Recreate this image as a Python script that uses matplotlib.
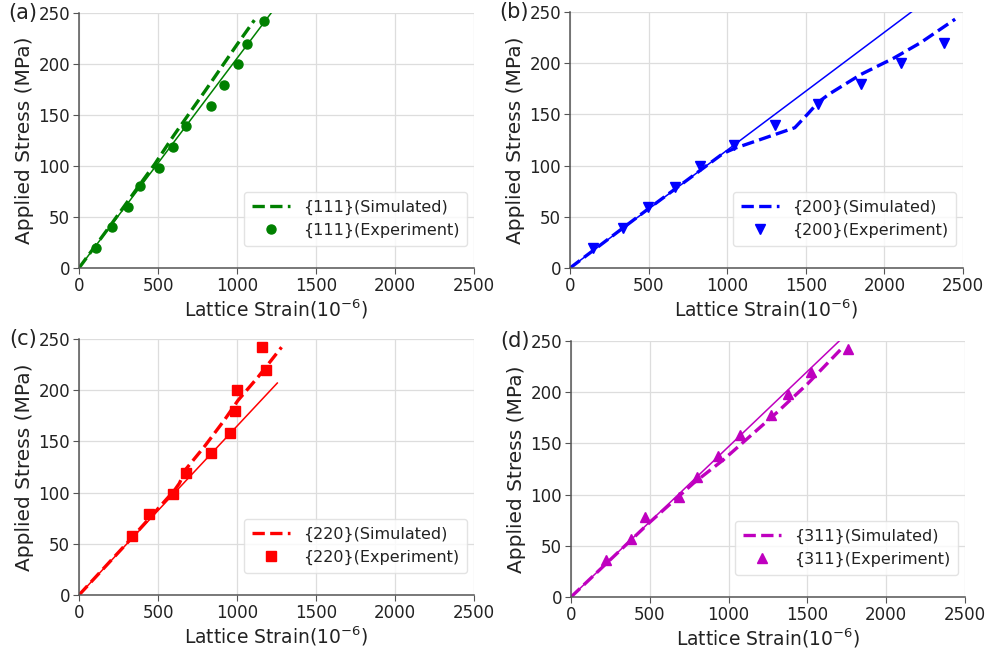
import matplotlib
matplotlib.use("Agg")
import matplotlib.pyplot as plt
from matplotlib.transforms import offset_copy

# ---- {111} ----
exp111_strain = [109, 207, 310, 385, 504, 596, 677, 838, 917, 1006, 1066, 1169]
exp111_stress = [20, 40, 60, 80, 98, 119, 139, 159, 179, 200, 220, 242]
sim111_strain = [0, 200, 400, 480, 600, 800, 1000, 1110]
sim111_stress = [0, 42, 85, 102, 130, 174, 219, 243]
fit111_strain = [0, 1260]
fit111_stress = [0, 259]

# ---- {200} ----
exp200_strain = [147, 338, 497, 667, 830, 1043, 1304, 1580, 1852, 2105, 2381]
exp200_stress = [20, 39, 60, 79, 100, 120, 140, 160, 180, 200, 220]
sim200_strain = [0, 500, 975, 1050, 1240, 1430, 1510, 1580, 1650, 1850, 2060, 2230, 2450]
sim200_stress = [0, 58, 112, 117, 127, 137, 150, 162, 170, 189, 205, 220, 243]
fit200_strain = [0, 2250]
fit200_stress = [0, 259]

# ---- {220} ----
exp220_strain = [333, 442, 597, 677, 837, 953, 985, 1002, 1183, 1161]
exp220_stress = [58, 79, 99, 119, 139, 158, 180, 200, 220, 242]
sim220_strain = [0, 300, 603, 635, 677, 794, 921, 1006, 1134, 1282]
sim220_stress = [0, 50, 102, 109, 123, 145, 171, 190, 213, 242]
fit220_strain = [0, 1255]
fit220_stress = [0, 207]

# ---- {311} ----
exp311_strain = [220, 381, 472, 685, 797, 931, 1073, 1269, 1375, 1523, 1760]
exp311_stress = [36, 57, 78, 98, 117, 138, 158, 178, 198, 220, 242]
sim311_strain = [0, 500, 776, 967, 1305, 1500, 1713]
sim311_stress = [0, 73, 111, 134, 180, 208, 242]
fit311_strain = [0, 1770]
fit311_stress = [0, 260]

x_ticks = [0, 500, 1000, 1500, 2000, 2500]
y_ticks = [0, 50, 100, 150, 200, 250]

panels = [
    ("(a)", "{111}", "g", "o", exp111_strain, exp111_stress, sim111_strain, sim111_stress, fit111_strain, fit111_stress),
    ("(b)", "{200}", "b", "v", exp200_strain, exp200_stress, sim200_strain, sim200_stress, fit200_strain, fit200_stress),
    ("(c)", "{220}", "r", "s", exp220_strain, exp220_stress, sim220_strain, sim220_stress, fit220_strain, fit220_stress),
    ("(d)", "{311}", "m", "^", exp311_strain, exp311_stress, sim311_strain, sim311_stress, fit311_strain, fit311_stress),
]

W, H = 989, 651
boxes = [
    (79, 268, 395, 255),
    (570, 268, 393, 256),
    (79, 595, 395, 256),
    (571, 597, 394, 256),
]

fig = plt.figure(figsize=(W / 100, H / 100), dpi=100)

for (tag, fam, col, mk, ex, ey, sx, sy, fx, fy), (l, b, w, h) in zip(panels, boxes):
    ax = fig.add_axes([l / W, 1 - b / H, w / W, h / H])
    ax.plot(fx, fy, color=col, lw=1.1)
    ax.plot(sx, sy, color=col, lw=2.4, ls="--", label=f"{fam}(Simulated)")
    ax.plot(ex, ey, color=col, ls="none", marker=mk, ms=6.5, label=f"{fam}(Experiment)")
    ax.set_xlim(0, 2500)
    ax.set_ylim(0, 250)
    ax.set_xticks(x_ticks)
    ax.set_yticks(y_ticks)
    ax.grid(True, color="#dddddd", lw=0.9)
    ax.set_axisbelow(True)
    for s in ("top", "right"):
        ax.spines[s].set_visible(False)
    for s in ("left", "bottom"):
        ax.spines[s].set_color("#555555")
        ax.spines[s].set_linewidth(1.1)
    ax.tick_params(labelsize=12, length=4, pad=2.5, color="#555555", labelcolor="#222222")
    ax.set_xlabel(r"Lattice Strain($10^{-6}$)", fontsize=13.5, labelpad=2, color="#222222")
    ax.set_ylabel("Applied Stress (MPa)", fontsize=14.5, labelpad=3, color="#222222")
    leg = ax.legend(loc="lower right", fontsize=11.5, frameon=True, fancybox=True,
                    borderpad=0.5, handlelength=2.4, bbox_to_anchor=(1.003, 0.055))
    leg.get_frame().set_edgecolor("#dddddd")
    for t in leg.get_texts():
        t.set_color("#222222")
    tr = offset_copy(ax.transAxes, fig=fig, x=-30, y=0, units="points")
    ax.text(0, 1, tag, transform=tr, ha="right", va="center", fontsize=15, color="#222222")

fig.savefig("out.png", dpi=100)
